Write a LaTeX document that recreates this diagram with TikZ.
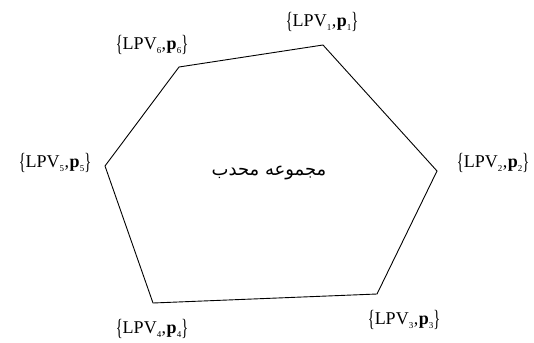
\documentclass[tikz,border=0pt]{standalone}
\usepackage{fontspec}
\usepackage{graphicx}
\setmainfont{Liberation Serif}
\newfontfamily\arabicfont[Script=Arabic]{DejaVu Sans}
\TeXXeTstate=1
\newcommand{\brl}{\raisebox{-0.12em}{\scalebox{0.8}[1.3]{\{}}}
\newcommand{\brr}{\raisebox{-0.12em}{\scalebox{0.8}[1.3]{\}}}}
\newcommand{\sbs}[1]{\raisebox{-0.25em}{\fontsize{9}{10}\selectfont #1}}
\newcommand{\lpv}[1]{\brl LPV\sbs{#1}\kern0.5pt,\kern0.5pt\textbf{p}\sbs{#1}\brr}
\begin{document}
\begin{tikzpicture}[x=1pt,y=-1pt,
  lbl/.style={inner sep=0pt,font=\fontsize{18}{20}\selectfont},
  edge/.style={draw=black,line width=0.9pt,line join=miter}]
\useasboundingbox (0,0) rectangle (534,342);
\coordinate (p1) at (323,45);
\coordinate (p2) at (437,171);
\coordinate (p3) at (377,294);
\coordinate (p4) at (153,303);
\coordinate (p5) at (105,166);
\coordinate (p6) at (179,67);
\draw[edge] (p1) -- (p2) -- (p3) -- (p4) -- (p5) -- (p6) -- cycle;
\node[lbl] (l1) at (322,22) {\lpv{1}};
\node[lbl] (l2) at (493,163) {\lpv{2}};
\node[lbl] (l3) at (404,320) {\lpv{3}};
\node[lbl] (l4) at (152,329) {\lpv{4}};
\node[lbl] (l5) at (55,163) {\lpv{5}};
\node[lbl] (l6) at (152,45) {\lpv{6}};
\node[inner sep=0pt,font=\fontsize{18}{22}\selectfont] (c) at (269,173) {\arabicfont\beginR مجموعه محدب\endR};
\end{tikzpicture}
\end{document}
